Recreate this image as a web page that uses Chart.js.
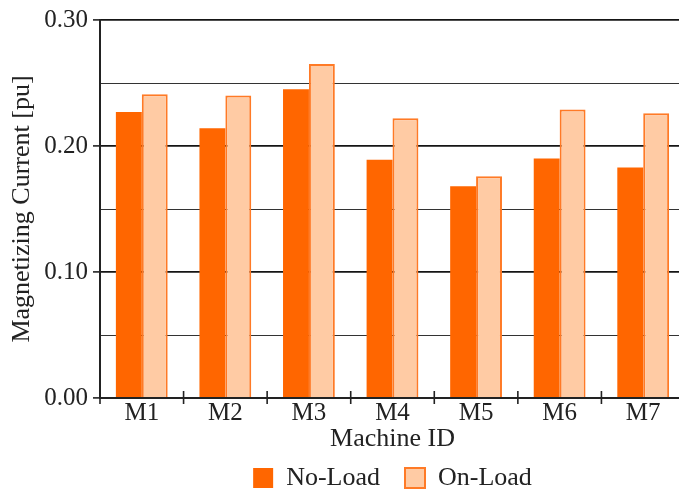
<!DOCTYPE html>
<html>
<head>
<meta charset="utf-8">
<title>Magnetizing Current</title>
<script src="https://cdn.jsdelivr.net/npm/chart.js@4/dist/chart.umd.min.js"></script>
<style>
  html, body { margin: 0; padding: 0; background: #fff; overflow: hidden; }
  #wrap { width: 686px; height: 501px; }
</style>
</head>
<body>
<div id="wrap"><canvas id="c" width="686" height="501"></canvas></div>
<script>
// Magnetizing current per machine, no-load vs on-load (per unit)
const machines = ['M1', 'M2', 'M3', 'M4', 'M5', 'M6', 'M7'];
const noLoad = [0.227, 0.214, 0.245, 0.189, 0.168, 0.190, 0.183];
const onLoad = [0.241, 0.240, 0.265, 0.222, 0.176, 0.229, 0.226];
const yTicks = [0.00, 0.10, 0.20, 0.30];

const INK = '#222222';
const DARK = '#ff6600';
const LIGHT = '#ffcba4';
const LIGHT_EDGE = '#ff7a26';

Chart.defaults.font.family = "'Liberation Serif', 'Times New Roman', serif";
Chart.defaults.font.size = 25;
Chart.defaults.color = INK;

const isMajor = v => yTicks.some(t => Math.abs(t - v) < 1e-6);

// short tick marks at the category boundaries, crossing the baseline
const boundaryTicks = {
  id: 'boundaryTicks',
  afterDraw(chart) {
    const x = chart.scales.x, y = chart.scales.y;
    const n = machines.length;
    const base = y.getPixelForValue(0);
    const ctx = chart.ctx;
    ctx.save();
    ctx.strokeStyle = INK;
    ctx.lineWidth = 1.6;
    for (let i = 0; i <= n; i++) {
      const px = x.left + (x.right - x.left) * i / n;
      ctx.beginPath();
      ctx.moveTo(px, i === 0 ? base : base - 7);
      ctx.lineTo(px, base + 6);
      ctx.stroke();
    }
    ctx.restore();
  }
};

new Chart(document.getElementById('c'), {
  type: 'bar',
  data: {
    labels: machines,
    datasets: [
      {
        label: 'No-Load',
        data: noLoad,
        backgroundColor: DARK,
        borderColor: DARK,
        borderWidth: 0,
        categoryPercentage: 0.62,
        barPercentage: 1.0
      },
      {
        label: 'On-Load',
        data: onLoad,
        backgroundColor: LIGHT,
        borderColor: LIGHT_EDGE,
        borderWidth: 2,
        categoryPercentage: 0.62,
        barPercentage: 1.0
      }
    ]
  },
  options: {
    responsive: false,
    animation: false,
    layout: { padding: { top: 18, right: 1, left: 0, bottom: 0 } },
    plugins: {
      legend: {
        position: 'bottom',
        fullSize: false,
        labels: {
          boxWidth: 20,
          boxHeight: 20,
          padding: 25,
          color: INK,
          font: { size: 26 }
        }
      },
      tooltip: { enabled: false }
    },
    scales: {
      x: {
        z: 1,
        offset: true,
        grid: { display: false, drawTicks: false },
        border: { display: true, color: INK, width: 2 },
        ticks: { padding: 0, color: INK, font: { size: 25 } },
        title: { display: true, text: 'Machine ID', color: INK, font: { size: 26 }, padding: { top: 0, bottom: -15 } },
        afterFit(scale) { scale.height = 42; }
      },
      y: {
        min: 0,
        max: 0.30,
        ticks: {
          stepSize: 0.05,
          padding: 5,
          color: INK,
          font: { size: 25 },
          callback: v => isMajor(v) ? Number(v).toFixed(2) : ''
        },
        grid: {
          color: ctx => isMajor(ctx.tick.value) ? '#151515' : '#333333',
          lineWidth: ctx => isMajor(ctx.tick.value) ? 1.8 : 1,
          tickColor: ctx => isMajor(ctx.tick.value) ? INK : 'rgba(0,0,0,0)',
          tickLength: 7,
          tickWidth: 1.6
        },
        border: { display: true, color: INK, width: 2 },
        title: { display: true, text: 'Magnetizing Current [pu]', color: INK, font: { size: 26 }, padding: { top: 7, bottom: 0 } },
        afterFit(scale) { scale.width = 100; }
      }
    }
  },
  plugins: [boundaryTicks]
});
</script>
</body>
</html>
